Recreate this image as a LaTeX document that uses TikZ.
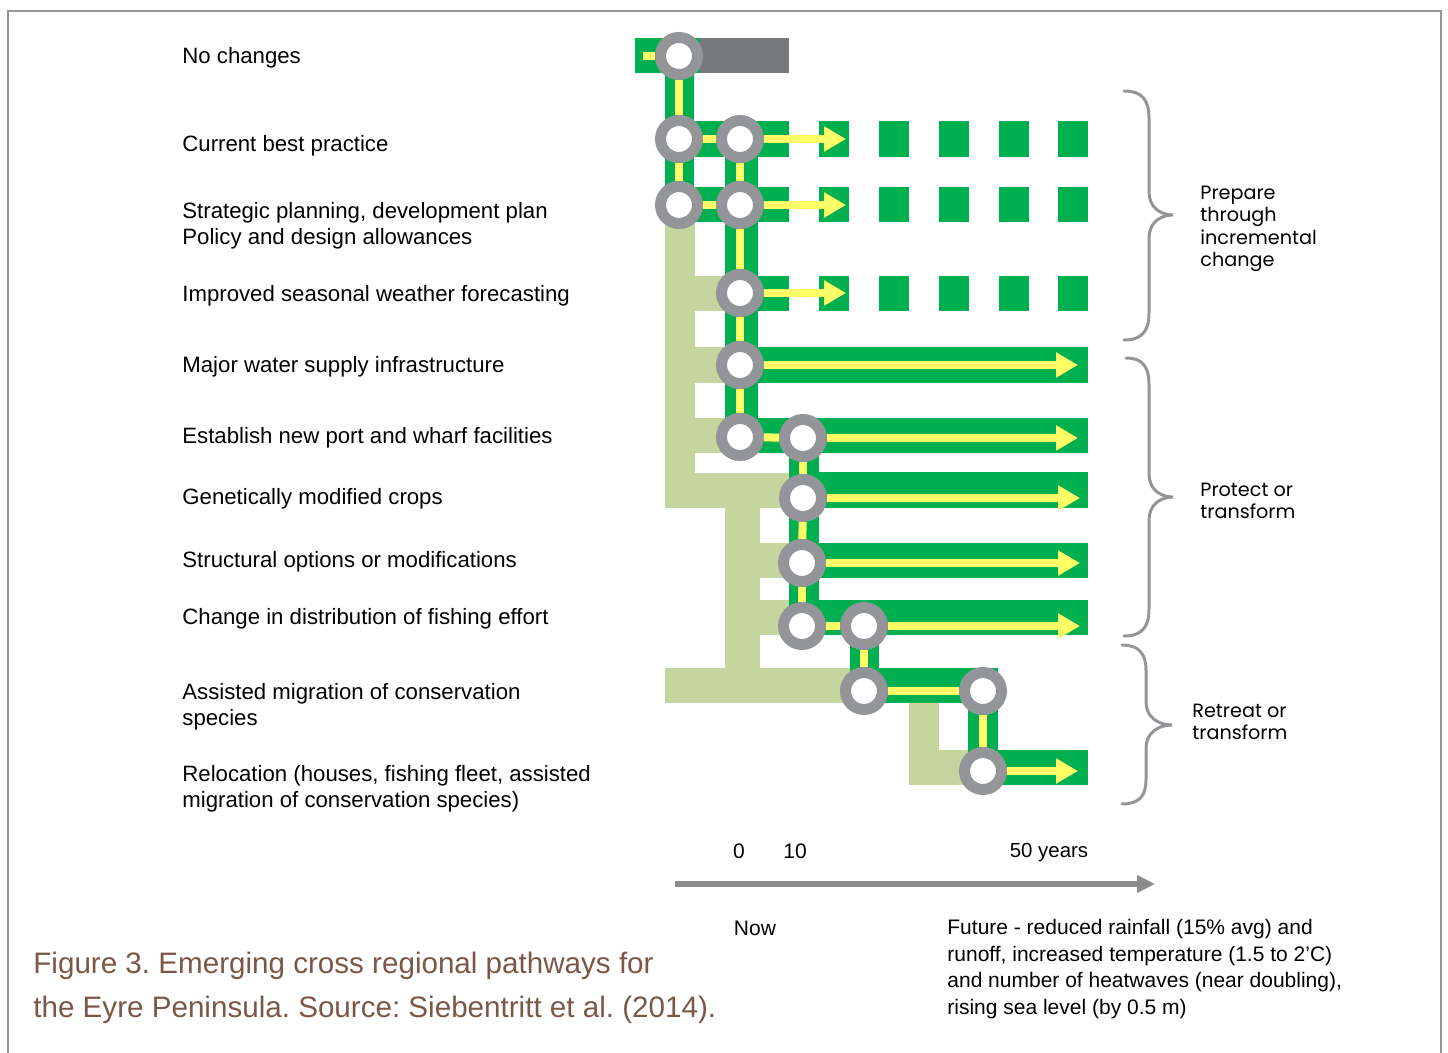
\documentclass[tikz,border=0pt]{standalone}
\usepackage{fontspec}
\setmainfont{Liberation Sans}
\newfontfamily\gothic{Poppins}
\usetikzlibrary{arrows.meta}
\frenchspacing

\definecolor{pathgreen}{RGB}{0,176,80}
\definecolor{backgreen}{RGB}{196,213,158}
\definecolor{trackyellow}{RGB}{255,255,102}
\definecolor{ringgray}{RGB}{147,149,152}
\definecolor{staygray}{RGB}{119,120,123}
\definecolor{axisgray}{RGB}{140,140,140}
\definecolor{framegray}{RGB}{150,150,150}
\definecolor{captionbrown}{RGB}{124,87,70}

\begin{document}
\begin{tikzpicture}[x=0.5pt, y=-0.5pt,
    stn/.style={circle, fill=white, draw=ringgray, line width=5.5pt,
      minimum size=18.5pt, inner sep=0pt, outer sep=2.75pt},
    trk/.style={draw=trackyellow, line width=4pt},
    tip/.style={trk, -{Triangle[length=11pt, width=12pt]}},
    bar/.style={fill=pathgreen},
    back/.style={fill=backgreen},
    lbl/.style={anchor=west, align=left, inner sep=0pt,
      font=\fontsize{11.1}{13.25}\selectfont},
    grp/.style={anchor=west, align=left, inner sep=0pt,
      font=\gothic\fontsize{9.6}{11.3}\selectfont},
    brace/.style={draw=ringgray, line width=1.5pt, line cap=round}]

  \useasboundingbox (0,0) rectangle (1448,1053);
  \draw[framegray, line width=1pt] (8,1053) -- (8,11) -- (1441,11) -- (1441,1053);

  % light green backdrop
  \fill[back] (665,222) rectangle (695,508);
  \fill[back] (695,276) rectangle (725,311);
  \fill[back] (695,347) rectangle (725,383);
  \fill[back] (695,418) rectangle (725,453);
  \fill[back] (665,473) rectangle (789,508);
  \fill[back] (725,508) rectangle (760,668);
  \fill[back] (760,543) rectangle (789,578);
  \fill[back] (760,600) rectangle (789,635);
  \fill[back] (665,668) rectangle (850,703);
  \fill[back] (909,703) rectangle (939,785);
  \fill[back] (939,750) rectangle (968,785);

  % green pathways
  \fill[bar] (635,38) rectangle (700,73);
  \fill[staygray] (700,38) rectangle (789,73);
  \fill[bar] (665,38) rectangle (694,222);
  \fill[bar] (665,121) rectangle (789,157);
  \fill[bar] (665,187) rectangle (789,222);
  \fill[bar] (725,121) rectangle (758,453);
  \fill[bar] (725,276) rectangle (789,311);
  \fill[bar] (725,347) rectangle (1088,383);
  \fill[bar] (725,418) rectangle (1088,453);
  \fill[bar] (789,418) rectangle (819,635);
  \fill[bar] (789,472) rectangle (1088,508);
  \fill[bar] (789,543) rectangle (1088,578);
  \fill[bar] (789,600) rectangle (1088,635);
  \fill[bar] (850,600) rectangle (879,703);
  \fill[bar] (850,668) rectangle (998,703);
  \fill[bar] (968,668) rectangle (998,785);
  \fill[bar] (968,750) rectangle (1088,785);
  \foreach \x in {819,879,939,999,1058} {
    \fill[bar] (\x,121) rectangle (\x+30,157);
    \fill[bar] (\x,187) rectangle (\x+30,222);
    \fill[bar] (\x,276) rectangle (\x+30,311);
  }

  \node[stn] (n0) at (679,56) {};
  \node[stn] (b1) at (679,139) {};
  \node[stn] (c1) at (740,139) {};
  \node[stn] (b2) at (679,205) {};
  \node[stn] (c2) at (740,205) {};
  \node[stn] (c3) at (740,293) {};
  \node[stn] (c4) at (740,365) {};
  \node[stn] (c5) at (740,437) {};
  \node[stn] (d5) at (803,438) {};
  \node[stn] (d6) at (803,498) {};
  \node[stn] (d7) at (802,563) {};
  \node[stn] (d8) at (802,626) {};
  \node[stn] (e8) at (864,626) {};
  \node[stn] (e9) at (864,691) {};
  \node[stn] (f9) at (983,691) {};
  \node[stn] (f10) at (983,771) {};

  \coordinate (s0) at (643,56);
  \coordinate (t1) at (846,139);
  \coordinate (t2) at (846,205);
  \coordinate (t3) at (846,293);
  \coordinate (t4) at (1078,365);
  \coordinate (t5) at (1078,438);
  \coordinate (t6) at (1080,498);
  \coordinate (t7) at (1080,563);
  \coordinate (t8) at (1080,626);
  \coordinate (t10) at (1078,771);

  \draw[trk] (s0) -- (n0);
  \draw[trk] (n0) -- (b1);
  \draw[trk] (b1) -- (b2);
  \draw[trk] (c1) -- (c2);
  \draw[trk] (c2) -- (c3);
  \draw[trk] (c3) -- (c4);
  \draw[trk] (c4) -- (c5);
  \draw[trk] (d5) -- (d6);
  \draw[trk] (d6) -- (d7);
  \draw[trk] (d7) -- (d8);
  \draw[trk] (e8) -- (e9);
  \draw[trk] (f9) -- (f10);
  \draw[trk] (b1) -- (c1);
  \draw[trk] (b2) -- (c2);
  \draw[trk] (c5) -- (d5);
  \draw[trk] (d8) -- (e8);
  \draw[trk] (e9) -- (f9);
  \draw[tip] (c1) -- (t1);
  \draw[tip] (c2) -- (t2);
  \draw[tip] (c3) -- (t3);
  \draw[tip] (c4) -- (t4);
  \draw[tip] (d5) -- (t5);
  \draw[tip] (d6) -- (t6);
  \draw[tip] (d7) -- (t7);
  \draw[tip] (e8) -- (t8);
  \draw[tip] (f10) -- (t10);

  \node[lbl] (l0) at (182,58) {No changes};
  \node[lbl] (l1) at (182,146) {Current best practice};
  \node[lbl] (l2) at (182,226) {Strategic planning, development plan\\Policy and design allowances};
  \node[lbl] (l3) at (182,296) {Improved seasonal weather forecasting};
  \node[lbl] (l4) at (182,367) {Major water supply infrastructure};
  \node[lbl] (l5) at (182,438) {Establish new port and wharf facilities};
  \node[lbl] (l6) at (182,499) {Genetically modified crops};
  \node[lbl] (l7) at (182,562) {Structural options or modifications};
  \node[lbl] (l8) at (182,619) {Change in distribution of fishing effort};
  \node[lbl] (l9) at (182,707) {Assisted migration of conservation\\species};
  \node[lbl] (l10) at (182,789) {Relocation (houses, fishing fleet, assisted\\migration of conservation species)};

  \draw[brace] (1124,91) .. controls (1142,91) and (1149,100) .. (1149,118) -- (1149,192)
    .. controls (1149,207) and (1160,215) .. (1173,215)
    .. controls (1160,215) and (1149,223) .. (1149,238) -- (1149,313)
    .. controls (1149,331) and (1142,340) .. (1124,340);
  \draw[brace] (1126,358) .. controls (1143,358) and (1149,367) .. (1149,385) -- (1149,474)
    .. controls (1149,489) and (1160,497) .. (1173,497)
    .. controls (1160,497) and (1149,505) .. (1149,520) -- (1149,609)
    .. controls (1149,627) and (1142,636) .. (1124,636);
  \draw[brace] (1122,645) .. controls (1139,645) and (1146,654) .. (1146,670) -- (1146,702)
    .. controls (1146,717) and (1158,725) .. (1172,725)
    .. controls (1158,725) and (1146,733) .. (1146,748) -- (1146,780)
    .. controls (1146,796) and (1139,804) .. (1122,804);

  \node[grp] (g1) at (1200,229) {Prepare\\through\\incremental\\change};
  \node[grp] (g2) at (1200,501) {Protect or\\transform};
  \node[grp] (g3) at (1192,722) {Retreat or\\transform};

  \coordinate (a0) at (675,884);
  \coordinate (a1) at (1155,884);
  \draw[axisgray, line width=3pt, -{Triangle[length=9pt, width=8.5pt]}] (a0) -- (a1);
  \node[font=\fontsize{10.5}{12}\selectfont] (y0) at (739,851) {0};
  \node[font=\fontsize{10.5}{12}\selectfont] (y10) at (795,851) {10};
  \node[font=\fontsize{10.2}{12}\selectfont] (y50) at (1049,852) {50 years};
  \node[font=\fontsize{10.5}{12}\selectfont] (now) at (755,928) {Now};
  \node[lbl, font=\fontsize{10.5}{13.2}\selectfont] (fut) at (947,969)
    {Future - reduced rainfall (15\% avg) and\\runoff, increased temperature (1.5 to 2'C)\\and number of heatwaves (near doubling),\\rising sea level (by 0.5 m)};

  \node[lbl, text=captionbrown, font=\fontsize{14.8}{22.3}\selectfont] (cap) at (33,988)
    {Figure 3. Emerging cross regional pathways for\\the Eyre Peninsula. Source: Siebentritt et al. (2014).};
\end{tikzpicture}
\end{document}
